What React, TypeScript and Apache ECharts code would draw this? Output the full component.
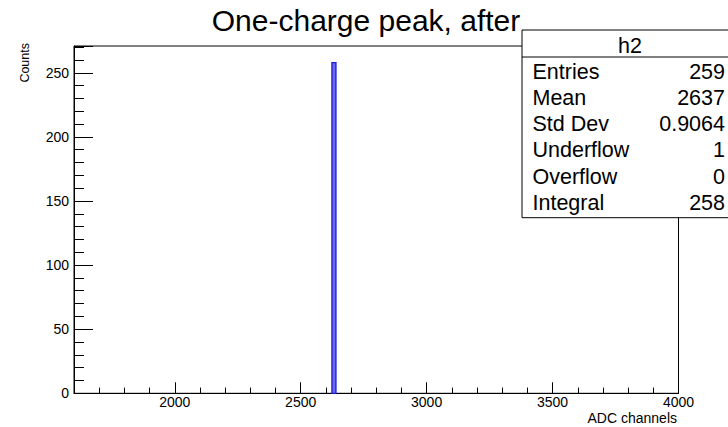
import React, { useEffect, useRef } from "react";
import * as echarts from "echarts";

const titleText = "One-charge peak, after";
const xTitle = "ADC channels";
const yTitle = "Counts";
const xRange = [1600, 4000];
const yRange = [0, 270.9];
const yMajorStep = 50;
const binLow = [2624];
const binHigh = [2640];
const binCounts = [258];
const statsName = "h2";
const statLabels = ["Entries", "Mean", "Std Dev", "Underflow", "Overflow", "Integral"];
const statValues = ["259", "2637", "0.9064", "1", "0", "258"];

const FONT = "'Liberation Sans', Arial, Helvetica, sans-serif";

export default function App() {
  const ref = useRef<HTMLDivElement>(null);
  useEffect(() => {
    if (!ref.current) return;
    const chart = echarts.init(ref.current, null, { renderer: "svg" });
    const data = binLow.map((lo, i) => [lo, binHigh[i], binCounts[i]]);
    const statTexts: any[] = [];
    statLabels.forEach((lab, i) => {
      const y = 71.7 + i * 26.2;
      statTexts.push({
        type: "text", z: 101, x: 532.5, y,
        style: { text: lab, fontSize: 21.5, fontFamily: FONT, fill: "#000", align: "left", verticalAlign: "middle" },
      });
      statTexts.push({
        type: "text", z: 101, x: 725, y,
        style: { text: statValues[i], fontSize: 21.5, fontFamily: FONT, fill: "#000", align: "right", verticalAlign: "middle" },
      });
    });
    const plain = (v: number) => String(v);
    const option: any = {
      animation: false,
      backgroundColor: "#fff",
      grid: {
        left: 74, top: 46, width: 604.5, height: 347.3,
        show: true, borderColor: "#000", borderWidth: 1, backgroundColor: "transparent",
      },
      xAxis: {
        type: "value", min: xRange[0], max: xRange[1], splitNumber: 5, position: "bottom",
        axisLine: { show: true, onZero: false, lineStyle: { color: "#000", width: 1 } },
        axisTick: { show: true, inside: true, length: 11, lineStyle: { color: "#000", width: 1 } },
        minorTick: { show: true, splitNumber: 5, length: 5.7, lineStyle: { color: "#000", width: 1 } },
        axisLabel: {
          show: true, fontSize: 14, fontFamily: FONT, color: "#000", margin: 2,
          showMinLabel: false, showMaxLabel: true, formatter: plain,
        },
        splitLine: { show: false },
        minorSplitLine: { show: false },
      },
      yAxis: {
        type: "value", min: yRange[0], max: yRange[1], interval: yMajorStep, position: "left",
        axisLine: { show: true, onZero: false, lineStyle: { color: "#000", width: 1 } },
        axisTick: { show: true, inside: true, length: 19, lineStyle: { color: "#000", width: 1 } },
        minorTick: { show: true, splitNumber: 5, length: 10, lineStyle: { color: "#000", width: 1 } },
        axisLabel: {
          show: true, fontSize: 14, fontFamily: FONT, color: "#000", margin: 5,
          showMinLabel: true, showMaxLabel: false, formatter: plain,
        },
        splitLine: { show: false },
        minorSplitLine: { show: false },
      },
      series: [
        {
          type: "custom",
          data,
          encode: { x: [0, 1], y: 2 },
          renderItem: (params: any, api: any) => {
            const p0 = api.coord([api.value(0), api.value(2)]);
            const p1 = api.coord([api.value(1), 0]);
            return {
              type: "rect",
              shape: { x: p0[0], y: p0[1], width: p1[0] - p0[0], height: p1[1] - p0[1] },
              style: { fill: "#6b6bf2", stroke: "#1c1cd0", lineWidth: 1.3 },
            };
          },
        },
      ],
      graphic: [
        {
          type: "text", z: 100, x: 366, y: 20.5,
          style: { text: titleText, fontSize: 30, fontFamily: FONT, fill: "#000", align: "center", verticalAlign: "middle" },
        },
        {
          type: "text", z: 100, x: 677, y: 418,
          style: { text: xTitle, fontSize: 14, fontFamily: FONT, fill: "#000", align: "right", verticalAlign: "middle" },
        },
        {
          type: "text", z: 100, x: 25, y: 43, rotation: Math.PI / 2,
          style: { text: yTitle, fontSize: 12.5, fontFamily: FONT, fill: "#000", align: "right", verticalAlign: "middle" },
        },
        {
          type: "rect", z: 100, shape: { x: 522, y: 30, width: 220, height: 187.7 },
          style: { fill: "#fff", stroke: "#000", lineWidth: 1 },
        },
        {
          type: "line", z: 101, shape: { x1: 522, y1: 57, x2: 742, y2: 57 },
          style: { stroke: "#000", lineWidth: 1 },
        },
        {
          type: "text", z: 101, x: 630, y: 45.7,
          style: { text: statsName, fontSize: 21.5, fontFamily: FONT, fill: "#000", align: "center", verticalAlign: "middle" },
        },
        ...statTexts,
      ],
    };
    chart.setOption(option);
    return () => chart.dispose();
  }, []);
  return (
    <div
      ref={ref}
      style={{ position: "fixed", left: 0, top: 0, width: 728, height: 427, background: "#fff" }}
    />
  );
}
